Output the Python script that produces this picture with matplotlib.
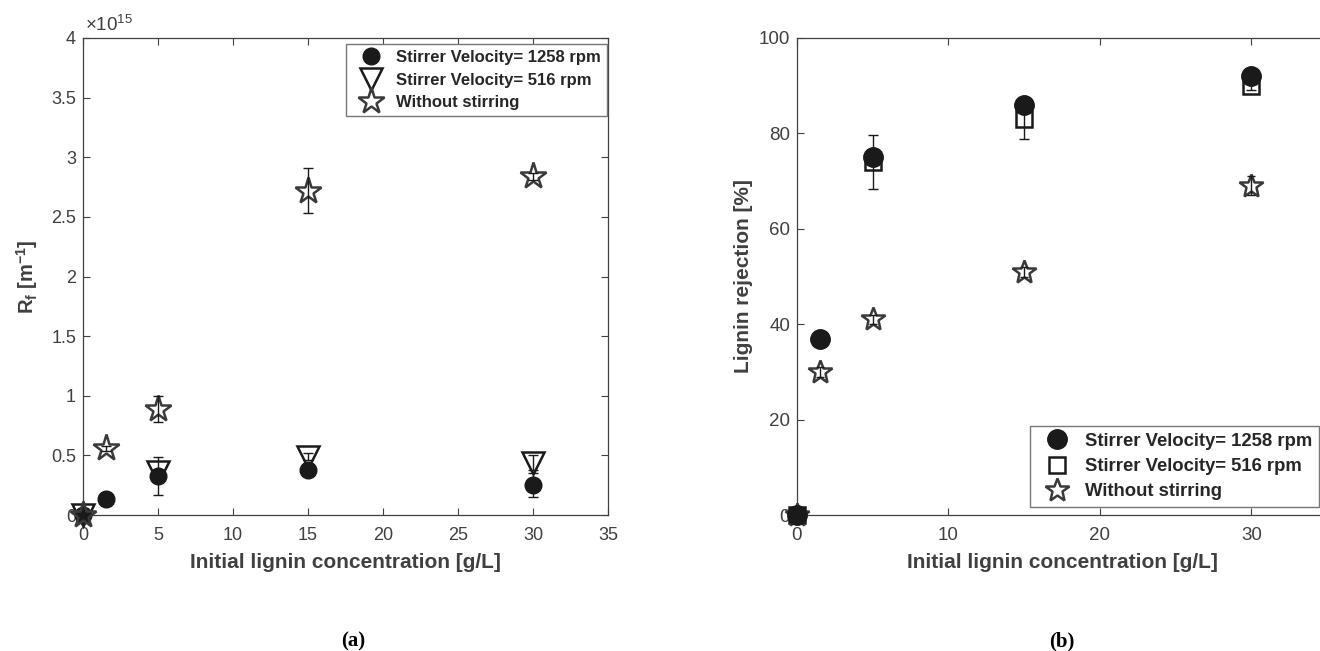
import matplotlib.pyplot as plt
import matplotlib.ticker as mticker
import numpy as np

plt.rcParams['font.family'] = ['Liberation Sans', 'DejaVu Sans']
plt.rcParams['mathtext.fontset'] = 'custom'
plt.rcParams['mathtext.rm'] = 'Liberation Sans'
plt.rcParams['mathtext.bf'] = 'Liberation Sans:bold'
plt.rcParams['mathtext.it'] = 'Liberation Sans:italic'

# (a) fouling resistance, in units of 1e15 m^-1
conc_1258 = [0, 1.5, 5, 15, 30]
rf_1258 = np.array([0.0, 0.13, 0.33, 0.38, 0.25])
rf_1258_err = np.array([0.0, 0.0, 0.16, 0.0, 0.10])
conc_516 = [0, 5, 15, 30]
rf_516 = np.array([0.0, 0.36, 0.49, 0.44])
rf_516_err = np.array([0.0, 0.02, 0.03, 0.06])
conc_none = [0, 1.5, 5, 15, 30]
rf_none = np.array([0.0, 0.56, 0.89, 2.72, 2.84])
rf_none_err = np.array([0.0, 0.02, 0.11, 0.19, 0.03])
RF_SCALE = 1e15

# (b) lignin rejection [%]
rej_1258_conc = [0, 1.5, 5, 15, 30]
rej_1258 = [0, 37, 75, 86, 92]
rej_516_conc = [0, 5, 15, 30]
rej_516 = [0, 74, 83, 90]
rej_516_err = [0, 5.6, 4.2, 1.0]
rej_none_conc = [0, 1.5, 5, 15, 30]
rej_none = [0, 30, 41, 51, 69]
rej_none_err = [0, 1.0, 1.0, 1.0, 2.0]

labels = ['Stirrer Velocity= 1258 rpm', 'Stirrer Velocity= 516 rpm',
          'Without stirring']

TXT = '#404040'
BLACK = '#1a1a1a'
STAR = '#3a3a3a'


def style_axes(ax, fs):
    ax.tick_params(direction='in', top=True, right=True, length=5,
                   width=0.8, colors=TXT, labelsize=fs, pad=5)
    ax.tick_params(axis='x', pad=9)
    for s in ax.spines.values():
        s.set_color(TXT)
        s.set_linewidth(0.9)


def err(ax, x, y, e, cap=3.5):
    ax.errorbar(x, y, yerr=e, fmt='none', ecolor=BLACK, elinewidth=1,
                capsize=cap, capthick=1, zorder=5, clip_on=False)


def legend(ax, size, anchor, loc):
    leg = ax.legend(loc=loc, bbox_to_anchor=anchor, fancybox=False,
                    edgecolor='#777777', framealpha=1,
                    prop={'weight': 'bold', 'size': size}, borderpad=0.35,
                    labelspacing=0.45, handlelength=2.2, handletextpad=0.45,
                    borderaxespad=0)
    leg.get_frame().set_linewidth(1.0)
    for t in leg.get_texts():
        t.set_color('#262626')
    return leg


fig = plt.figure(figsize=(13.2, 6.51), dpi=100)

# ---- left panel
ax1 = fig.add_axes([83 / 1320, 136 / 651, 525 / 1320, 477 / 651])
ax1.plot(conc_1258, rf_1258 * RF_SCALE, 'o', ms=12, mfc=BLACK, mec=BLACK,
         label=labels[0], zorder=3, clip_on=False)
ax1.plot(conc_516, rf_516 * RF_SCALE, 'v', ms=16, mfc='none', mec=BLACK,
         mew=1.8, label=labels[1], zorder=3, clip_on=False)
ax1.plot(conc_none, rf_none * RF_SCALE, '*', ms=20, mfc='none', mec=STAR,
         mew=1.8, label=labels[2], zorder=3, clip_on=False)
err(ax1, conc_1258, rf_1258 * RF_SCALE, rf_1258_err * RF_SCALE)
err(ax1, conc_516, rf_516 * RF_SCALE, rf_516_err * RF_SCALE)
err(ax1, conc_none, rf_none * RF_SCALE, rf_none_err * RF_SCALE)
ax1.set_xlim(0, 35)
ax1.set_ylim(0, 4e15)
ax1.set_xticks(np.arange(0, 36, 5))
ax1.set_yticks(np.arange(0, 4.01, 0.5) * RF_SCALE)
ax1.yaxis.set_major_formatter(
    mticker.FuncFormatter(lambda v, p: '%g' % (v / RF_SCALE)))
style_axes(ax1, 13)
ax1.text(0.003, 1.006, r'$\times10^{15}$', transform=ax1.transAxes,
         color=TXT, fontsize=13.5, ha='left', va='bottom')
ax1.set_xlabel('Initial lignin concentration [g/L]', fontsize=15,
               fontweight='bold', color=TXT, labelpad=6)
ax1.set_ylabel(r'R$_\mathbf{f}$ [m$^{\mathbf{-1}}$]', fontsize=14.5,
               fontweight='bold', color=TXT, labelpad=8)
legend(ax1, 12, (0.998, 0.987), 'upper right')

# ---- right panel
ax2 = fig.add_axes([797 / 1320, 136 / 651, 530 / 1320, 477 / 651])
ax2.plot(rej_1258_conc, rej_1258, 'o', ms=14, mfc=BLACK, mec=BLACK,
         label=labels[0], zorder=4, clip_on=False)
ax2.plot(rej_516_conc, rej_516, 's', ms=12, mfc='none', mec=BLACK,
         mew=1.8, label=labels[1], zorder=3, clip_on=False)
ax2.plot(rej_none_conc, rej_none, '*', ms=18, mfc='none', mec=STAR,
         mew=1.8, label=labels[2], zorder=3, clip_on=False)
err(ax2, rej_516_conc, rej_516, rej_516_err)
err(ax2, rej_none_conc, rej_none, rej_none_err, cap=3)
ax2.set_xlim(0, 35)
ax2.set_ylim(0, 100)
ax2.set_xticks([0, 10, 20, 30])
ax2.set_yticks(np.arange(0, 101, 20))
style_axes(ax2, 13.5)
ax2.set_xlabel('Initial lignin concentration [g/L]', fontsize=15,
               fontweight='bold', color=TXT, labelpad=6)
ax2.set_ylabel('Lignin rejection [%]', fontsize=15, fontweight='bold',
               color=TXT, labelpad=4)
legend(ax2, 13.3, (0.985, 0.017), 'lower right')

fig.text(353 / 1320, 1 - 641 / 651, '(a)', fontsize=15, fontweight='bold',
         family='Liberation Serif', ha='center', va='center')
fig.text(1062 / 1320, 1 - 641 / 651, '(b)', fontsize=15, fontweight='bold',
         family='Liberation Serif', ha='center', va='center')

fig.savefig('out.png', dpi=100)
